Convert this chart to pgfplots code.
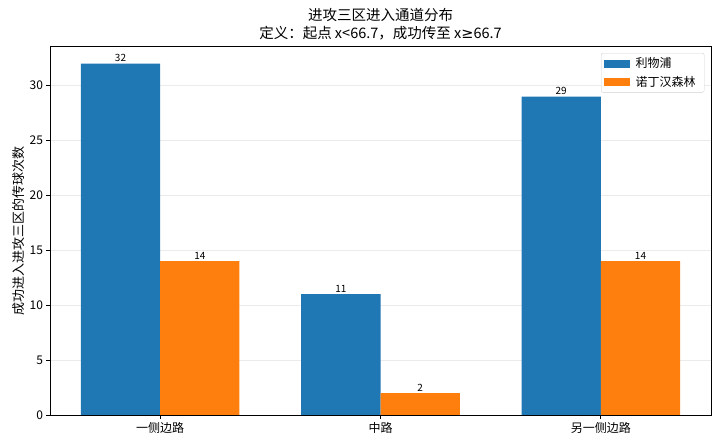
\documentclass[border=0pt]{standalone}
\usepackage{pgfplots}
\pgfplotsset{compat=1.18}
\usepackage{fontspec}
\setmainfont{Noto Sans CJK SC}
\newfontfamily\djv{DejaVu Sans}
\definecolor{mblue}{HTML}{1F77B4}
\definecolor{morange}{HTML}{FF7F0E}
\begin{document}
\begin{tikzpicture}
\path (0,0) rectangle (720bp,447bp);
\begin{axis}[
  at={(50bp,32bp)}, anchor=south west,
  scale only axis, width=661bp, height=369bp,
  xmin=-0.5, xmax=2.5, ymin=0, ymax=33.6,
  ybar, bar width=0.36,
  xtick={0,1,2}, xticklabels={一侧边路,中路,另一侧边路},
  ytick={0,5,...,30},
  tick align=outside, tick pos=left, major tick length=3.5bp,
  /pgf/number format/assume math mode=true,
  ticklabel style={font=\fontsize{12bp}{14bp}\selectfont},
  ymajorgrids, grid style={black!8, line width=0.7bp},
  axis line style={line width=0.7bp},
  every tick/.style={line width=0.7bp, black},
  title={进攻三区进入通道分布\\定义：起点 x<66.7，成功传至 x{\djv ≥}66.7},
  title style={align=center, font=\fontsize{14.5bp}{18bp}\selectfont, at={(0.5,1)}, anchor=south, yshift=-4bp},
  ylabel={成功进入进攻三区的传球次数},
  ylabel style={at={(axis description cs:-0.048,0.5)}, anchor=center, font=\fontsize{13bp}{15bp}\selectfont},
  nodes near coords,
  every node near coord/.append style={font=\fontsize{10bp}{11bp}\selectfont, black, yshift=-1.5bp},
  legend style={at={(rel axis cs:0.99,0.981)}, anchor=north east, draw=black!18, rounded corners=2bp,
    font=\fontsize{12bp}{14bp}\selectfont, inner xsep=3bp, inner ysep=2bp, row sep=2bp, cells={anchor=west},
    nodes={inner xsep=5.5bp, inner ysep=2.5bp}},
  legend image code/.code={\fill[#1, sharp corners] (0bp,-4bp) rectangle (26bp,4bp);},
]
\addplot[fill=mblue, draw=none, bar shift=-0.18] coordinates {(0,32) (1,11) (2,29)};
\addplot[fill=morange, draw=none, bar shift=0.18] coordinates {(0,14) (1,2) (2,14)};
\legend{利物浦,诺丁汉森林}
\end{axis}
\end{tikzpicture}
\end{document}
